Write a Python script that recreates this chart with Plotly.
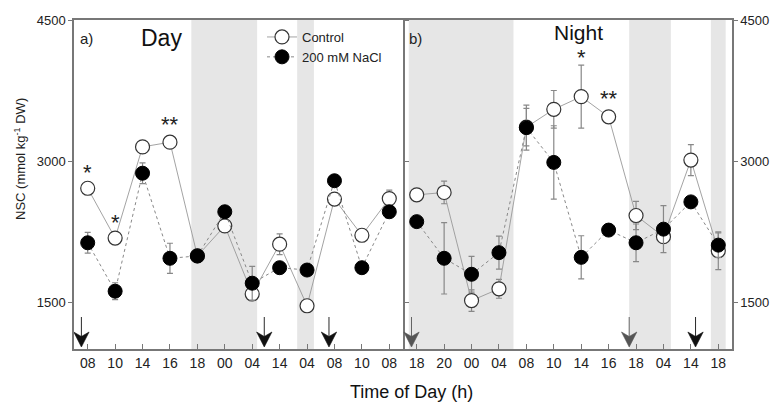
import plotly.graph_objects as go

# ---------------- data ----------------
day_labels = ["08", "10", "14", "16", "18", "00", "04", "14", "04", "08", "10", "08"]
night_labels = ["18", "20", "00", "04", "08", "10", "14", "16", "18", "04", "14", "18"]

day_control = [2710, 2180, 3150, 3200, 1990, 2310, 1585, 2115, 1460, 2595, 2210, 2600]
day_control_err = [60, 40, 50, 50, 40, 50, 50, 110, 40, 50, 50, 90]
day_nacl = [2130, 1615, 2870, 1965, 1990, 2460, 1700, 1865, 1840, 2790, 1865, 2460]
day_nacl_err = [110, 90, 110, 160, 50, 50, 180, 40, 50, 40, 40, 40]

night_control = [2640, 2665, 1515, 1640, 3360, 3550, 3685, 3470, 2420, 2195, 3010, 2045]
night_control_err = [50, 120, 115, 100, 200, 200, 335, 50, 150, 60, 165, 200]
night_nacl = [2355, 1965, 1795, 2025, 3355, 2985, 1975, 2265, 2130, 2275, 2565, 2105]
night_nacl_err = [40, 380, 190, 175, 240, 390, 230, 40, 200, 250, 50, 130]

# dark periods (category units)
day_shade = [(3.78, 6.18), (7.64, 8.25)]
night_shade = [(-0.29, 3.53), (7.75, 9.27), (10.73, 11.27)]

# arrows (category position, colour)
day_arrows = [(-0.23, "#111"), (6.44, "#111"), (8.8, "#111")]
night_arrows = [(-0.19, "#555"), (7.75, "#555"), (10.17, "#111")]

# significance marks: (panel, x index, text, y value)
stars = [("x", 0, "*", 2880), ("x", 1, "*", 2350), ("x", 3, "**", 3390),
         ("x2", 6, "*", 4100), ("x2", 7, "**", 3670)]

FONT = "Liberation Sans, Arial, sans-serif"
TXT = "#222"
AX = "#777"
Y0, Y1 = 1000, 4500

fig = go.Figure()

shapes = []
for xref, yref, regions in (("x", "y domain", day_shade), ("x2", "y2 domain", night_shade)):
    for a, b in regions:
        shapes.append(dict(type="rect", xref=xref, yref=yref, x0=a, x1=b, y0=0, y1=1,
                           fillcolor="#e6e6e6", line=dict(width=0), layer="below"))

# arrows drawn as small filled polygons (axis-relative geometry)
px = (Y1 - Y0) / 329.0          # data units per pixel on y
HW = 0.28                       # half width of arrowhead in category units
for xr, yr, arrows in (("x", "y", day_arrows), ("x2", "y2", night_arrows)):
    for pos, col in arrows:
        fig.add_trace(go.Scatter(
            x=[pos, pos], y=[Y0 + 10 * px, Y0 + 32 * px], xaxis=xr, yaxis=yr,
            mode="lines", line=dict(color=col, width=0.9),
            showlegend=False, hoverinfo="skip"))
        fig.add_trace(go.Scatter(
            x=[pos, pos - HW, pos, pos + HW, pos],
            y=[Y0 + 2 * px, Y0 + 17 * px, Y0 + 12.5 * px, Y0 + 17 * px, Y0 + 2 * px],
            xaxis=xr, yaxis=yr, mode="lines", fill="toself", fillcolor=col,
            line=dict(color=col, width=0.6), showlegend=False, hoverinfo="skip"))


def add_panel(xs_ref, ys_ref, ctrl, ctrl_err, nacl, nacl_err, show_legend):
    xs = list(range(len(ctrl)))
    fig.add_trace(go.Scatter(
        x=xs, y=ctrl, xaxis=xs_ref, yaxis=ys_ref, mode="lines+markers",
        name="Control", showlegend=show_legend,
        line=dict(color="#999", width=0.9),
        marker=dict(symbol="circle", size=14, color="white",
                    line=dict(color="#333", width=1.2)),
        error_y=dict(type="data", array=ctrl_err, visible=True,
                     color="#888", thickness=1.2, width=3)))
    fig.add_trace(go.Scatter(
        x=xs, y=nacl, xaxis=xs_ref, yaxis=ys_ref, mode="lines+markers",
        name="200 mM NaCl", showlegend=show_legend,
        line=dict(color="#888", width=1, dash="dot"),
        marker=dict(symbol="circle", size=14, color="black",
                    line=dict(color="black", width=1)),
        error_y=dict(type="data", array=nacl_err, visible=True,
                     color="#888", thickness=1.2, width=3)))

add_panel("x", "y", day_control, day_control_err, day_nacl, day_nacl_err, True)
add_panel("x2", "y2", night_control, night_control_err, night_nacl, night_nacl_err, False)

annotations = []
for xref, idx, t, yv in stars:
    annotations.append(dict(x=idx, y=yv, xref=xref, yref="y" if xref == "x" else "y2",
                            text=t, showarrow=False,
                            font=dict(family=FONT, size=22, color=TXT)))

annotations += [
    dict(x=0.006, y=0.945, xref="paper", yref="paper", text="a)", showarrow=False,
         xanchor="left", yanchor="middle", font=dict(family=FONT, size=15, color=TXT)),
    dict(x=0.506, y=0.945, xref="paper", yref="paper", text="b)", showarrow=False,
         xanchor="left", yanchor="middle", font=dict(family=FONT, size=15, color=TXT)),
    dict(x=(161 - 74) / 658, y=1 - (38 - 20) / 329, xref="paper", yref="paper", text="Day",
         showarrow=False, xanchor="center", yanchor="middle",
         font=dict(family=FONT, size=23, color="#111")),
    dict(x=(578 - 74) / 658, y=1 - (33 - 20) / 329, xref="paper", yref="paper", text="Night",
         showarrow=False, xanchor="center", yanchor="middle",
         font=dict(family=FONT, size=21, color="#111")),
    dict(x=(411 - 74) / 658, y=0, xref="paper", yref="paper", yshift=-43,
         text="Time of Day (h)", showarrow=False, xanchor="center", yanchor="middle",
         font=dict(family=FONT, size=18, color="#111")),
    dict(x=0, y=1 - (159 - 20) / 329, xref="paper", yref="paper", xshift=-54,
         text="NSC (mmol kg<sup>-1</sup> DW)", textangle=-90, showarrow=False,
         xanchor="center", yanchor="middle", font=dict(family=FONT, size=13, color=TXT)),
]

xcommon = dict(range=[-0.5, 11.5], tickmode="array", tickvals=list(range(12)),
               ticks="inside", ticklen=5, tickcolor=AX, showline=True, linecolor=AX,
               linewidth=1.5, mirror=True, showgrid=False, zeroline=False,
               automargin=False,
               tickfont=dict(family=FONT, size=14, color=TXT))
ycommon = dict(range=[Y0, Y1], tickvals=[1500, 3000, 4500], ticks="outside",
               ticklen=4, tickcolor=AX, showline=True, linecolor=AX, linewidth=1.5,
               showgrid=False, zeroline=False, automargin=False,
               tickfont=dict(family=FONT, size=13, color=TXT))

fig.update_layout(
    width=771, height=402,
    margin=dict(l=74, r=39, t=20, b=53, autoexpand=False),
    paper_bgcolor="white", plot_bgcolor="white",
    xaxis=dict(domain=[0, 0.5], ticktext=day_labels, anchor="y", **xcommon),
    xaxis2=dict(domain=[0.5, 1], ticktext=night_labels, anchor="y2", **xcommon),
    yaxis=dict(anchor="x", mirror="ticks", **ycommon),
    yaxis2=dict(anchor="x2", side="right", mirror=False, **ycommon),
    shapes=shapes,
    annotations=annotations,
    legend=dict(x=(262 - 74) / 658, y=1 - (22 - 20) / 329, xanchor="left", yanchor="top",
                bgcolor="rgba(0,0,0,0)", font=dict(family=FONT, size=13, color=TXT),
                itemwidth=30, tracegroupgap=0),
    showlegend=True,
)

fig.write_html("out.html")
